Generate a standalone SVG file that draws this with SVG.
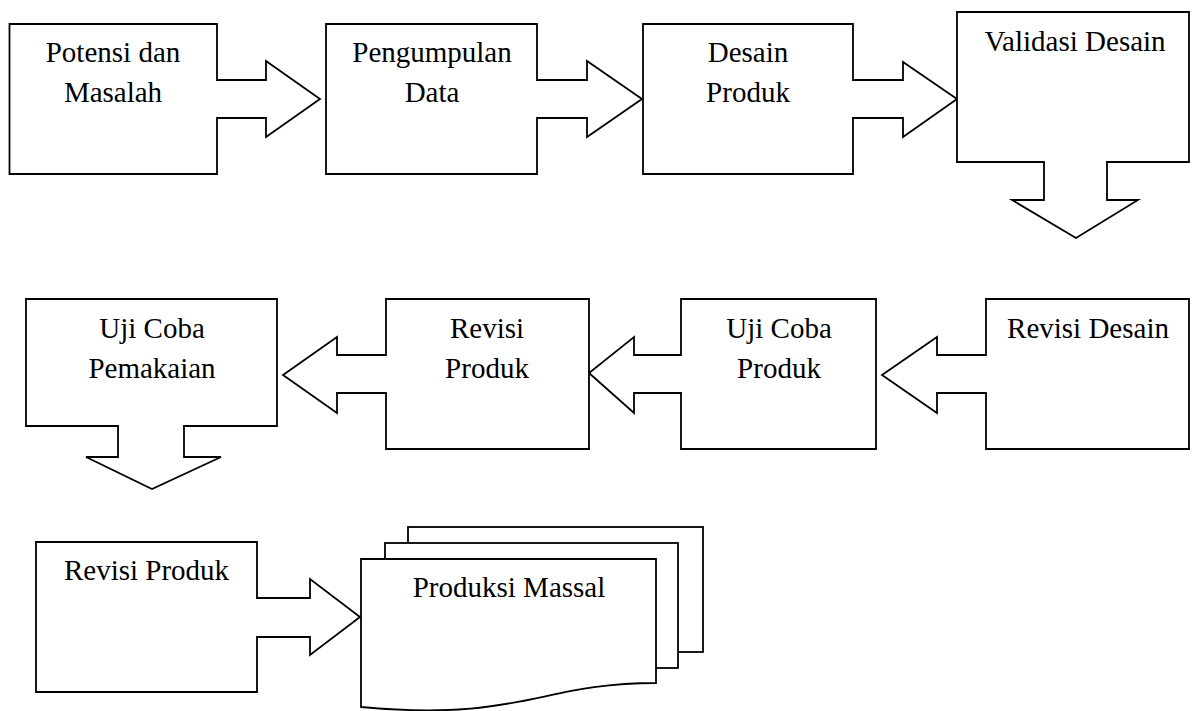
<svg xmlns="http://www.w3.org/2000/svg" width="1192" height="711" viewBox="0 0 1192 711">
<style>
.box{fill:#fff;stroke:#000;stroke-width:1.8;stroke-linejoin:miter;stroke-linecap:square}
.arr{fill:#fff;stroke:#000;stroke-width:1.8;stroke-linejoin:miter;stroke-linecap:square}
.pg{fill:#fff;stroke:#000;stroke-width:1.8}
text{font-family:"Liberation Serif","Times New Roman",serif;font-size:29px;fill:#000;text-anchor:middle}
</style>
<rect width="1192" height="711" fill="#fff"/>
<g id="connectors">
<path class="arr" d="M217,80 H266 V61 L320,99 L266,137 V118 H217"/>
<path class="arr" d="M537,80 H587 V61 L642,99 L587,137 V118 H537"/>
<path class="arr" d="M853,80 H903 V62 L957,99 L903,137 V118 H853"/>
<path class="arr" d="M1044,162 V200 H1012 L1076,238 L1138,200 H1107 V162"/>
<path class="arr" d="M986,355 H937 V337 L882,375 L937,413 V393 H986"/>
<path class="arr" d="M681,355 H634 V337 L589,373 L634,413 V393 H681"/>
<path class="arr" d="M386,355 H337 V337 L283,375 L337,413 V393 H386"/>
<path class="arr" d="M118,426 V457 H86 L152,489 L221,457 H184 V426"/>
<path class="arr" d="M257,598 H310 V579 L360,617 L310,655 V637 H257"/>
</g>
<g id="n1">
<path class="box" d="M217,80 V24 H9.5 V174 H217 V118"/>
<text x="113" y="62">Potensi dan</text>
<text x="113" y="102">Masalah</text>
</g>
<g id="n2">
<path class="box" d="M537,80 V24 H326 V174 H537 V118"/>
<text x="432" y="62">Pengumpulan</text>
<text x="432" y="102">Data</text>
</g>
<g id="n3">
<path class="box" d="M853,80 V24 H643 V174 H853 V118"/>
<text x="748" y="62">Desain</text>
<text x="748" y="102">Produk</text>
</g>
<g id="n4">
<path class="box" d="M1044,162 H957 V12 H1189 V162 H1107"/>
<text x="1075" y="51">Validasi Desain</text>
</g>
<g id="n5">
<path class="box" d="M986,355 V299 H1189 V449 H986 V393"/>
<text x="1088" y="338">Revisi Desain</text>
</g>
<g id="n6">
<path class="box" d="M681,355 V299 H876 V449 H681 V393"/>
<text x="779" y="338">Uji Coba</text>
<text x="779" y="378">Produk</text>
</g>
<g id="n7">
<path class="box" d="M386,355 V299 H589 V449 H386 V393"/>
<text x="487" y="338">Revisi</text>
<text x="487" y="378">Produk</text>
</g>
<g id="n8">
<path class="box" d="M118,426 H26 V299 H277 V426 H184"/>
<text x="152" y="338">Uji Coba</text>
<text x="152" y="378">Pemakaian</text>
</g>
<g id="n9">
<path class="box" d="M257,598 V542 H36 V692 H257 V637"/>
<text x="146.5" y="580">Revisi Produk</text>
</g>
<g id="n10">
<rect class="pg" x="408" y="527" width="295" height="125"/>
<rect class="pg" x="385" y="543" width="293" height="125"/>
<path class="pg" d="M361,559 H656 V683 C540,683 520,722 361,707 Z"/>
<text x="509" y="597">Produksi Massal</text>
</g>
</svg>
